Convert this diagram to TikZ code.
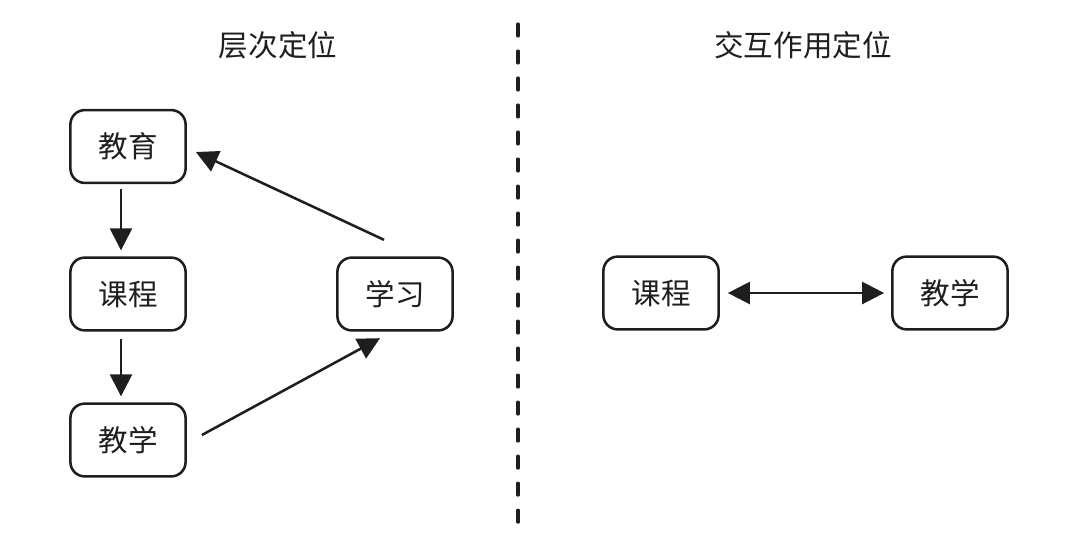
\documentclass[tikz,border=0pt]{standalone}
\usepackage{fontspec}
\setmainfont{Noto Sans CJK SC}
\usetikzlibrary{positioning,arrows.meta,calc}
\definecolor{InkDark}{RGB}{30,30,30}

\begin{document}
\begin{tikzpicture}[x=0.025cm, y=-0.025cm, font=\fontsize{21}{25}\selectfont,
    every node/.style={align=center, text=InkDark},
    box/.style={draw=InkDark, line width=1.8pt, rounded corners=0.36cm,
                minimum width=2.88cm, minimum height=1.82cm, inner sep=0pt},
    arr/.style={-{Triangle[length=0.55cm, width=0.55cm]}, line width=1.8pt, draw=InkDark},
    twoarr/.style={{Triangle[length=0.55cm, width=0.55cm]}-{Triangle[length=0.55cm, width=0.55cm]},
                   line width=1.8pt, draw=InkDark}]
  \useasboundingbox (0,0) rectangle (1067,548);
  % left: hierarchy
  \node (t1) at (278,45) {层次定位};
  \node[box] (jy) at (128,146.5) {教育};
  \node[box] (kc) at (128,294) {课程};
  \node[box] (jx) at (128,440) {教学};
  \node[box] (xx) at (395,294) {学习};
  \draw[arr] ($(jy.south)+(-7,5)$) -- ($(kc.north)+(-7,-6)$);
  \draw[arr] ($(kc.south)+(-7,7.5)$) -- ($(jx.north)+(-7,-6)$);
  \draw[arr] ($(xx.north)+(-11,-16.5)$) -- ($(jy.east)+(9,5.5)$);
  \draw[arr] ($(jx.east)+(15,-5)$) -- ($(xx.south)+(-15,6.5)$);
  % divider
  \coordinate (dtop) at (518,24);
  \coordinate (dbot) at (518,525);
  \draw[InkDark, line width=2.2pt, line cap=round, dash pattern=on 0.3cm off 0.375cm] (dtop) -- (dbot);
  % right: interaction
  \node (t2) at (803,45) {交互作用定位};
  \node[box] (kc2) at (661,293) {课程};
  \node[box] (jx2) at (950,293) {教学};
  \draw[twoarr] ($(kc2.east)+(8,0)$) -- ($(jx2.west)+(-7,0)$);
\end{tikzpicture}
\end{document}
